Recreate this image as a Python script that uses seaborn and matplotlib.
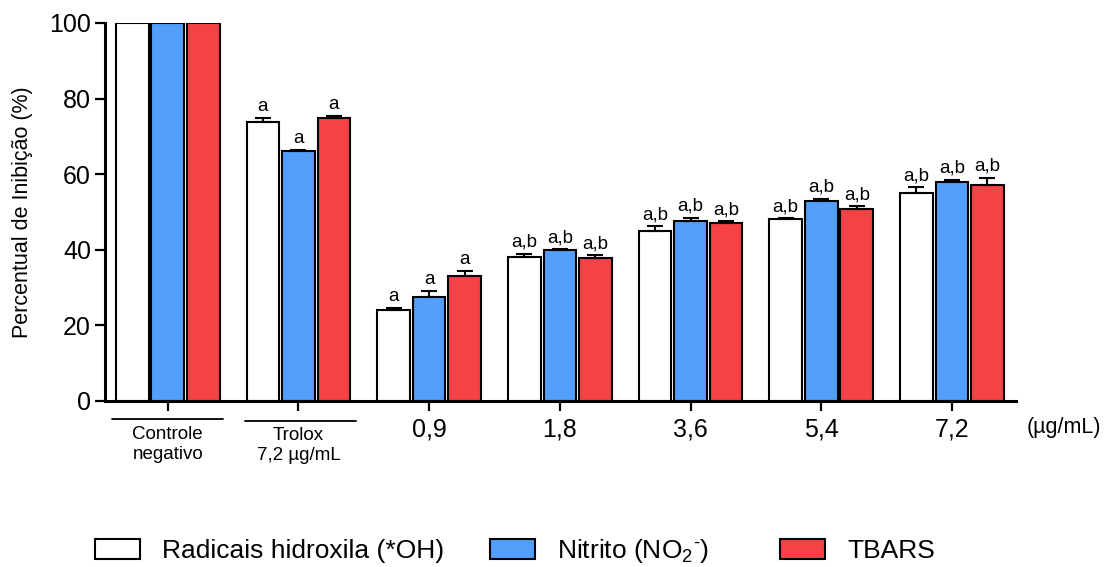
import matplotlib
matplotlib.use("Agg")
import matplotlib.pyplot as plt
import matplotlib.transforms as mtransforms
import numpy as np
import pandas as pd
import seaborn as sns

# ---- data ----
categories = ["Controle negativo", "Trolox 7,2 µg/mL", "0,9", "1,8", "3,6", "5,4", "7,2"]
tick_labels = ["", "", "0,9", "1,8", "3,6", "5,4", "7,2"]
series_names = ["Radicais hidroxila (*OH)", r"Nitrito (NO$_2$$^{\text{-}}$)", "TBARS"]

hidroxila = [100, 73.7, 24.1, 38.2, 45.1, 48.2, 55.1]
hidroxila_err = [0, 1.1, 0.5, 0.8, 1.2, 0.2, 1.4]
nitrito = [100, 66.2, 27.6, 39.9, 47.5, 52.9, 57.9]
nitrito_err = [0, 0.3, 1.5, 0.2, 1.0, 0.6, 0.6]
tbars = [100, 74.9, 33.1, 37.9, 47.2, 50.9, 57.1]
tbars_err = [0, 0.4, 1.3, 0.6, 0.3, 0.7, 2.0]

letters_hidroxila = ["", "a", "a", "a,b", "a,b", "a,b", "a,b"]
letters_nitrito = ["", "a", "a", "a,b", "a,b", "a,b", "a,b"]
letters_tbars = ["", "a", "a", "a,b", "a,b", "a,b", "a,b"]

colors = ["#FFFFFF", "#529EFA", "#F64246"]

values = [hidroxila, nitrito, tbars]
errors = [hidroxila_err, nitrito_err, tbars_err]
letters = [letters_hidroxila, letters_nitrito, letters_tbars]

rows = []
for s, vals in zip(series_names, values):
    for c, v in zip(categories, vals):
        rows.append({"grupo": c, "serie": s, "valor": v})
df = pd.DataFrame(rows)

# ---- style ----
sns.set_style("ticks")
plt.rcParams["font.family"] = ["Liberation Sans", "DejaVu Sans"]
plt.rcParams["mathtext.fontset"] = "custom"
plt.rcParams["mathtext.rm"] = "Liberation Sans"
plt.rcParams["mathtext.it"] = "Liberation Sans:italic"
plt.rcParams["mathtext.bf"] = "Liberation Sans:bold"
for k in ["text.color", "axes.labelcolor", "xtick.color", "ytick.color", "axes.edgecolor"]:
    plt.rcParams[k] = "black"

fig = plt.figure(figsize=(11.04, 5.67), dpi=100)
ax = fig.add_axes([105 / 1104, 1 - 401 / 567, (1016 - 105) / 1104, (401 - 23) / 567])

sns.barplot(data=df, x="grupo", y="valor", hue="serie", order=categories,
            hue_order=series_names, palette=colors, saturation=1, width=0.815, gap=0.08,
            edgecolor="black", linewidth=1.5, errorbar=None, ax=ax)

handles, labels = ax.get_legend_handles_labels()
if ax.get_legend() is not None:
    ax.get_legend().remove()

# error bars (upper only) and letters
for cont, err, lets in zip(ax.containers, errors, letters):
    for patch, e, let in zip(cont.patches, err, lets):
        x = patch.get_x() + patch.get_width() / 2
        y = patch.get_height()
        if e > 0:
            ax.errorbar([x], [y], yerr=[[0], [e]], fmt="none", ecolor="black",
                        elinewidth=1.5, capsize=6, capthick=1.5, zorder=3)
        if let:
            ax.annotate(let, (x, y + e), xytext=(0, 5), textcoords="offset points",
                        ha="center", va="baseline", fontsize=13.5)

ax.set_ylim(0, 100)
ax.set_xlim(-0.48, 6.49)
ax.set_yticks([0, 20, 40, 60, 80, 100])
ax.set_xticks(range(len(categories)))
ax.set_xticklabels(tick_labels)
ax.tick_params(axis="both", labelsize=18, length=7, width=1.6, color="black", labelcolor="black")
ax.tick_params(axis="x", pad=5)
ax.tick_params(axis="y", pad=3)
ax.set_xlabel("")
ax.set_ylabel("Percentual de Inibição (%)", fontsize=15.5, labelpad=12)
for sp in ["top", "right"]:
    ax.spines[sp].set_visible(False)
for sp in ["left", "bottom"]:
    ax.spines[sp].set_linewidth(2.2)
    ax.spines[sp].set_color("black")

trans = mtransforms.blended_transform_factory(ax.transData, ax.transAxes)
ax.plot([-0.43, 0.42], [-0.048, -0.048], color="black", lw=1.3, transform=trans, clip_on=False)
ax.plot([0.59, 1.44], [-0.053, -0.053], color="black", lw=1.3, transform=trans, clip_on=False)
ax.text(0, -0.066, "Controle\nnegativo", transform=trans, ha="center", va="top",
        fontsize=13.5, linespacing=1.25)
ax.text(1, -0.068, "Trolox\n7,2 µg/mL", transform=trans, ha="center", va="top",
        fontsize=13.5, linespacing=1.25)

fig.text(1027 / 1104, 1 - 427 / 567, "(µg/mL)", ha="left", va="center", fontsize=15.5)

# legend entries placed individually to match spacing
leg_x = [95 / 1104, 490 / 1104, 780 / 1104]
for h, lab, lx in zip(handles, labels, leg_x):
    leg = fig.legend([h], [lab], loc="center left", bbox_to_anchor=(lx, 1 - 551 / 567),
                     frameon=False, fontsize=19, handlelength=1.7, handleheight=0.76,
                     handletextpad=0.85, borderpad=0, borderaxespad=0)

fig.savefig("out.png", dpi=100)
